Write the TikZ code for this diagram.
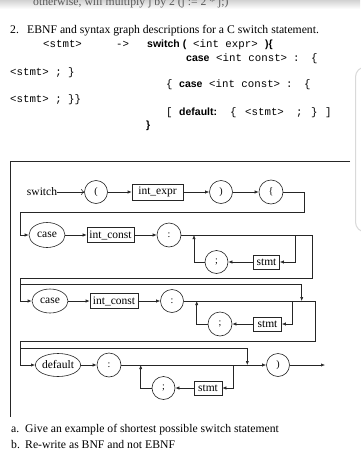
\documentclass[tikz,border=0pt]{standalone}
\usepackage{fontspec}
\setmainfont{Liberation Serif}
\newfontfamily\lsansfam{Liberation Sans}
\newfontfamily\lmonofam{Liberation Mono}
\usetikzlibrary{arrows.meta,shapes.geometric}
\newcommand\myT{\fontsize{11.7}{14}\selectfont}
\newcommand\myM{\lmonofam\fontsize{10.75}{13}\selectfont}
\newcommand\myB{\lsansfam\bfseries\fontsize{10.5}{13}\selectfont}
\newcommand\myD{\fontsize{11.5}{13}\selectfont}
\newcommand\myC{\fontsize{10}{12}\selectfont}
\begin{document}
\begin{tikzpicture}[x=1pt,y=-1pt,
  every node/.style={inner sep=0pt},
  ln/.style={draw=black!85,line width=0.6pt},
  arr/.style={ln,-{Latex[length=4pt,width=3.2pt]}},
  oarr/.style={ln,-{To[length=3pt,width=6pt]}},
  term/.style={circle,draw=black!85,line width=0.6pt,minimum size=23pt,font=\myC},
  nbox/.style={rectangle,draw=black!85,line width=0.6pt,minimum height=15pt,font=\myD},
  kw/.style={ellipse,draw=black!85,line width=0.6pt,font=\myD},
  txt/.style={anchor=base west,font=\myT},
  mono/.style={anchor=base west,font=\myM},
  bsans/.style={anchor=base west,font=\myB}]
\useasboundingbox (0,0) rectangle (360,474);
\fill[white] (0,0) rectangle (360,474);
% top band with cut-off text
\shade[top color=gray!35,bottom color=white] (0,0) rectangle (360,9);
\node[txt,text=black!65] (t0) at (33,5.5) {otherwise, will multiply j by 2 (j := 2 * j;)};
% gray popup edge
\draw[gray!30,line width=1pt,rounded corners=10pt] (372,67) -- (355.5,67) -- (355.5,232) -- (372,232);
% heading
\node[txt] (n2) at (10,33) {2.};
\node[txt] (l2) at (27,33) {EBNF and syntax graph descriptions for a C switch statement.};
% EBNF
\node[mono] (m1) at (43,47) {<stmt>};
\node[mono] (m2) at (116,47) {->};
\node[bsans] (m3) at (147,47) {switch (};
\node[mono] (m4) at (193,47) {<int expr>};
\node[bsans] (m5) at (265,47) {)\{};
\node[bsans] (m6) at (186,61) {case};
\node[mono] (m7) at (216,61) {<int const>};
\node[mono] (m8) at (293,61) {:};
\node[mono] (m9) at (311,61) {\{};
\node[mono] (m10) at (10,75) {<stmt> ; \}};
\node[mono] (m11) at (166,87) {\{};
\node[bsans] (m12) at (179,87) {case};
\node[mono] (m13) at (209,87) {<int const>};
\node[mono] (m14) at (286,87) {:};
\node[mono] (m15) at (304,87) {\{};
\node[mono] (m16) at (10,102) {<stmt> ; \}\}};
\node[mono] (m17) at (166,115) {[};
\node[bsans] (m18) at (179,115) {default:};
\node[mono] (m19) at (230,115) {\{};
\node[mono] (m20) at (245,115) {<stmt>};
\node[mono] (m21) at (296,115) {;};
\node[mono] (m22) at (311,115) {\}};
\node[mono] (m23) at (325,115) {]};
\node[bsans] (m24) at (146,128) {\}};
% frame
\coordinate (fa) at (10,161.5);
\coordinate (fb) at (350,161.5);
\coordinate (fc) at (10,417);
\draw[ln] (fb) -- (fa) -- (fc);
% row 1
\node[font=\myD] (sw) at (42,192) {switch};
\node[term] (c1) at (96,192) {(};
\node[nbox,minimum width=51pt,minimum height=16pt] (b1) at (157.5,192) {int\_expr};
\node[term] (c2) at (221,192) {)};
\node[term,minimum size=24pt] (c3) at (271,192) {\{};
\draw[oarr] (sw) -- (c1);
\draw[arr] (c1) -- (b1);
\draw[arr] (b1) -- (c2);
\draw[arr] (c2) -- (c3);
% row 2
\node[kw,minimum width=36pt,minimum height=25pt] (e1) at (47,235) {case};
\node[nbox,minimum width=47pt] (b2) at (110.5,235) {int\_const};
\node[term,minimum size=24pt] (c4) at (169,235) {:};
\coordinate (k1) at (304,212);
\coordinate (k2) at (20.7,212);
\draw[arr] (c3.east) -| (k1) -- (k2) |- (e1.west);
\draw[arr] (e1) -- (b2);
\draw[arr] (b2) -- (c4);
\node[nbox,minimum width=26pt,minimum height=14pt] (s1) at (266.5,262) {stmt};
\node[term] (c5) at (216.5,262) {;};
\coordinate (j1) at (295,235);
\coordinate (j2) at (194,235);
\draw[arr] (j1) |- (s1.east);
\draw[arr] (s1) -- (c5);
\draw[arr] (c5.west) -| (j2);
% row 3
\node[kw,minimum width=36pt,minimum height=24pt] (e2) at (50,301) {case};
\node[nbox,minimum width=48pt] (b3) at (114,301) {int\_const};
\node[term] (c6) at (172,301) {:};
\coordinate (k3) at (312.7,278);
\coordinate (k4) at (20.7,278);
\draw[arr] (c4.east) -| (k3) -- (k4) |- (e2.west);
\draw[arr] (e2) -- (b3);
\draw[arr] (b3) -- (c6);
\coordinate (k7) at (20.7,284);
\coordinate (k8) at (301.7,301);
\draw[arr] (k7) -| (k8);
\node[nbox,minimum width=28pt,minimum height=14pt] (s2) at (267.5,324) {stmt};
\node[term,minimum size=24pt] (c7) at (220,324) {;};
\coordinate (j3) at (292.7,301);
\coordinate (j4) at (196.7,301);
\draw[arr] (j3) |- (s2.east);
\draw[arr] (s2) -- (c7);
\draw[arr] (c7.west) -| (j4);
% row 4
\node[kw,minimum width=39pt,minimum height=23pt] (e3) at (58,365) {default};
\node[term,minimum size=24pt] (c8) at (109,365) {:};
\node[term] (c9) at (278,365) {)};
\coordinate (k5) at (315,341);
\coordinate (k6) at (20.7,341);
\draw[arr] (c6.east) -| (k5) -- (k6) |- (e3.west);
\draw[arr] (e3) -- (c8);
\draw[arr] (c8) -- (c9);
\coordinate (endp) at (325,365);
\draw[arr] (c9) -- (endp);
\coordinate (k9) at (20.7,348);
\coordinate (k10) at (247.3,365);
\draw[arr] (k9) -| (k10);
\node[nbox,minimum width=28pt,minimum height=14pt] (s3) at (208,388) {stmt};
\node[term] (c10) at (163.5,388) {;};
\coordinate (j5) at (233,365);
\coordinate (j6) at (140.7,365);
\draw[arr] (j5) |- (s3.east);
\draw[arr] (s3) -- (c10);
\draw[arr] (c10.west) -| (j6);
% questions
\node[txt] (qa) at (11,432) {a.};
\node[txt] (qa2) at (25,432) {Give an example of shortest possible switch statement};
\node[txt] (qb) at (11,448) {b.};
\node[txt] (qb2) at (25,448) {Re-write as BNF and not EBNF};
\end{tikzpicture}
\end{document}
